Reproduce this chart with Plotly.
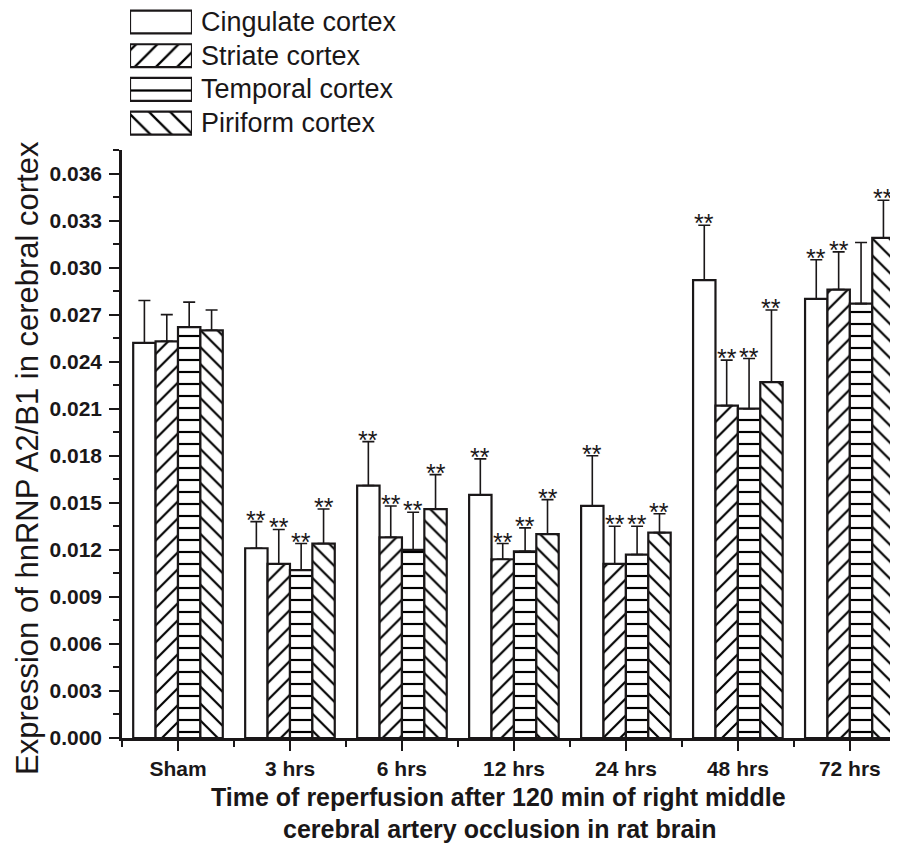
import plotly.graph_objects as go

categories = ["Sham", "3 hrs", "6 hrs", "12 hrs", "24 hrs", "48 hrs", "72 hrs"]
series_names = ["Cingulate cortex", "Striate cortex", "Temporal cortex", "Piriform cortex"]

cingulate = [0.0252, 0.0121, 0.0161, 0.0155, 0.0148, 0.0292, 0.0280]
cingulate_err = [0.0027, 0.0017, 0.0028, 0.0023, 0.0032, 0.0035, 0.0025]
striate = [0.0253, 0.0111, 0.0128, 0.0114, 0.0111, 0.0212, 0.0286]
striate_err = [0.0017, 0.0022, 0.0020, 0.0010, 0.0024, 0.0029, 0.0024]
temporal = [0.0262, 0.0107, 0.0120, 0.0119, 0.0117, 0.0210, 0.0277]
temporal_err = [0.0016, 0.0017, 0.0024, 0.0015, 0.0018, 0.0032, 0.0039]
piriform = [0.0260, 0.0124, 0.0146, 0.0130, 0.0131, 0.0227, 0.0319]
piriform_err = [0.0013, 0.0022, 0.0022, 0.0022, 0.0012, 0.0046, 0.0024]

# significance markers (**) per series, per time point
cingulate_sig = [False, True, True, True, True, True, True]
striate_sig = [False, True, True, True, True, True, True]
temporal_sig = [False, True, True, True, True, True, False]
piriform_sig = [False, True, True, True, True, True, True]

y_tick_values = [0.000, 0.003, 0.006, 0.009, 0.012, 0.015, 0.018, 0.021,
                 0.024, 0.027, 0.030, 0.033, 0.036]

values = [cingulate, striate, temporal, piriform]
errors = [cingulate_err, striate_err, temporal_err, piriform_err]
sigs = [cingulate_sig, striate_sig, temporal_sig, piriform_sig]
patterns = ["", "/", "-", "\\"]

INK = "#1a1718"
FONT = "Liberation Sans, Arial, sans-serif"

W, H = 890, 835          # page body has an 8px margin
ML, MB = 114, 105
PW, PH = W - ML, H - MB  # 776 x 730


def fx(px):
    """reference pixel x -> paper fraction"""
    return (px - 8 - ML) / PW


def fy(py):
    """reference pixel y -> paper fraction"""
    return (PH - (py - 8)) / PH


x_pos = list(range(len(categories)))
fig = go.Figure()

for name, vals, errs, pat in zip(series_names, values, errors, patterns):
    fig.add_trace(go.Bar(
        x=x_pos, y=vals, name=name, showlegend=False,
        marker=dict(color="white", line=dict(color=INK, width=2.2),
                    pattern=dict(shape=pat, fgcolor="#000000", bgcolor="white",
                                 fgopacity=1, size=12, solidity=0.18)),
        error_y=dict(type="data", array=errs, arrayminus=[0] * len(errs),
                     symmetric=False, color=INK, thickness=1.6, width=6),
    ))

# significance annotations
offsets = [-0.3, -0.1, 0.1, 0.3]
for k, (vals, errs, sg) in enumerate(zip(values, errors, sigs)):
    for i, (v, e, s) in enumerate(zip(vals, errs, sg)):
        if s:
            fig.add_annotation(x=i + offsets[k], y=v + e, xref="x", yref="y",
                               text="**", showarrow=False, yanchor="bottom",
                               yshift=-14,
                               font=dict(family=FONT, size=25, color=INK))

# legend swatches drawn as bars in an inset axis
fig.add_trace(go.Bar(
    x=[1] * len(series_names), y=list(range(len(series_names))),
    orientation="h", width=0.68, showlegend=False, hoverinfo="skip",
    xaxis="x2", yaxis="y2",
    marker=dict(color="white", line=dict(color=INK, width=2.2),
                pattern=dict(shape=patterns, fgcolor="#000000", bgcolor="white",
                             fgopacity=1, size=15, solidity=0.15)),
))
for j, name in enumerate(series_names):
    fig.add_annotation(x=fx(199), y=j, xref="paper", yref="y2",
                       text=name, showarrow=False, xanchor="left",
                       yanchor="middle",
                       font=dict(family=FONT, size=27, color=INK))

# axis titles
fig.add_annotation(x=fx(498), y=fy(797), xref="paper", yref="paper",
                   showarrow=False, xanchor="center", yanchor="middle",
                   text="<b>Time of reperfusion after 120 min of right middle</b>",
                   font=dict(family=FONT, size=25, color=INK))
fig.add_annotation(x=fx(500), y=fy(829), xref="paper", yref="paper",
                   showarrow=False, xanchor="center", yanchor="middle",
                   text="<b>cerebral artery occlusion in rat brain</b>",
                   font=dict(family=FONT, size=25, color=INK))
fig.add_annotation(x=fx(27), y=fy(458), xref="paper", yref="paper",
                   showarrow=False, xanchor="center", yanchor="middle",
                   textangle=-90,
                   text="Expression of hnRNP A2/B1 in cerebral cortex",
                   font=dict(family=FONT, size=31, color=INK))

fig.update_layout(
    width=W, height=H,
    margin=dict(l=ML, r=0, t=0, b=MB, pad=0),
    paper_bgcolor="white", plot_bgcolor="white",
    barmode="group", bargap=0.2, bargroupgap=0,
    font=dict(family=FONT, color=INK),
    xaxis=dict(
        range=[-0.5, 6.43], tickvals=x_pos,
        ticktext=["<b>%s</b>" % c for c in categories],
        tickfont=dict(family=FONT, size=21, color=INK),
        showline=True, linecolor=INK, linewidth=2.5,
        ticks="outside", ticklen=10, tickwidth=2, tickcolor=INK,
        minor=dict(tickvals=[i - 0.5 for i in range(8)], ticks="outside",
                   ticklen=6, tickwidth=2, tickcolor=INK),
        showgrid=False, zeroline=False, fixedrange=True,
    ),
    yaxis=dict(
        domain=[0, 588 / PH], range=[0, 0.0375],
        tickvals=y_tick_values,
        ticktext=["<b>%.3f</b>" % v for v in y_tick_values],
        tickfont=dict(family=FONT, size=21, color=INK),
        ticklabelstandoff=3,
        showline=True, linecolor=INK, linewidth=2.5,
        ticks="outside", ticklen=10, tickwidth=2, tickcolor=INK,
        minor=dict(tickvals=[0.0015 + 0.003 * i for i in range(13)],
                   ticks="outside", ticklen=6, tickwidth=2, tickcolor=INK),
        showgrid=False, zeroline=False, fixedrange=True,
    ),
    xaxis2=dict(domain=[fx(130), fx(192)], range=[0, 1],
                anchor="y2", visible=False, fixedrange=True),
    yaxis2=dict(domain=[fy(140), 1], range=[3.5, -0.415], anchor="x2",
                visible=False, fixedrange=True),
)

fig.write_html("out.html")
